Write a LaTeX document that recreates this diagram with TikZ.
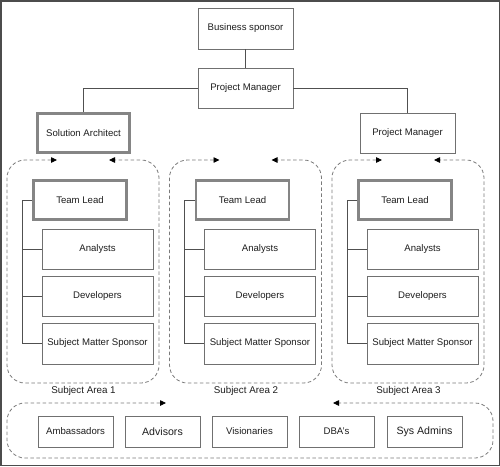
\documentclass[tikz,border=0pt]{standalone}
\usepackage{fontspec}
\setmainfont{Liberation Sans}
\usetikzlibrary{arrows.meta,calc}
\definecolor{boxline}{HTML}{707070}
\definecolor{thickline}{HTML}{858585}
\definecolor{connline}{HTML}{505050}
\definecolor{dashline}{HTML}{7A7A7A}
\definecolor{txt}{HTML}{1E1E1E}
\tikzset{
  box/.style={draw=boxline, line width=0.9pt, fill=white, text=txt, inner sep=0pt,
    font=\fontsize{9.6}{11}\selectfont},
  thickbox/.style={box, draw=thickline, line width=2.4pt},
  conn/.style={draw=connline, line width=0.8pt},
  grp/.style={draw=dashline, line width=0.8pt, dash pattern=on 3.5pt off 2.5pt,
    rounded corners=18pt,
    {Triangle[length=6pt,width=5.5pt,color=black]}-{Triangle[length=6pt,width=5.5pt,color=black]}},
  lbl/.style={text=txt, inner sep=0pt, font=\fontsize{9.8}{11}\selectfont},
  bigtxt/.style={font=\fontsize{10.6}{12}\selectfont}
}
\begin{document}
\begin{tikzpicture}[x=1pt,y=-1pt]
\useasboundingbox (0,0) rectangle (500,466);
\draw[draw=black!70, line width=1.5pt] (0.75,0.75) rectangle (499.25,465.25);

% top hierarchy
\node[box, minimum width=95pt, minimum height=41pt] (bs) at (245.5,28.5) {Business sponsor};
\node[box, minimum width=95pt, minimum height=40pt] (pm) at (245.5,88) {Project Manager};
\node[thickbox, minimum width=92pt, minimum height=39pt] (sa) at (83.5,133) {Solution Architect};
\node[box, minimum width=95pt, minimum height=40pt] (pmr) at (407.5,133) {Project Manager};
\draw[conn] (bs.south) -- (pm.north);
\draw[conn] (pm.west) -| (sa.north);
\draw[conn] (pm.east) -| (pmr.north);

% subject areas
\foreach \i/\dx in {1/0,2/162.5,3/325}{
  \draw[grp] (57+\dx,160) -- (7+\dx,160) -- (7+\dx,383) -- (159+\dx,383) -- (159+\dx,160) -- (109+\dx,160);
  \node[thickbox, minimum width=93pt, minimum height=39pt] (tl\i) at (80+\dx,200) {Team Lead};
  \node[box, minimum width=111pt, minimum height=40pt] (an\i) at (97.5+\dx,249) {Analysts};
  \node[box, minimum width=111pt, minimum height=40pt] (dv\i) at (97.5+\dx,296) {Developers};
  \node[box, minimum width=111pt, minimum height=41pt] (sm\i) at (97.5+\dx,343.5) {Subject Matter Sponsor};
  \coordinate (tt\i) at (22+\dx,200);
  \draw[conn] (tl\i.west) -- (tt\i) -- (tt\i |- sm\i.west) -- (sm\i.west);
  \draw[conn] (tt\i |- an\i.west) -- (an\i.west);
  \draw[conn] (tt\i |- dv\i.west) -- (dv\i.west);
  \node[lbl] (sal\i) at (83.5+\dx,390.5) {Subject Area \i};
}

% shared resources
\draw[grp] (166,403) -- (7,403) -- (7,458) -- (493,458) -- (493,403) -- (333,403);
\node[box, minimum width=75pt, minimum height=31pt] (amb) at (75.5,431.5) {Ambassadors};
\node[box, bigtxt, minimum width=75pt, minimum height=31pt] (adv) at (162.5,431.5) {Advisors};
\node[box, minimum width=75pt, minimum height=31pt] (vis) at (249.5,431.5) {Visionaries};
\node[box, minimum width=75pt, minimum height=31pt] (dba) at (336.5,431.5) {DBA's};
\node[box, bigtxt, minimum width=75pt, minimum height=31pt] (sys) at (424.5,431.5) {Sys Admins};
\end{tikzpicture}
\end{document}
